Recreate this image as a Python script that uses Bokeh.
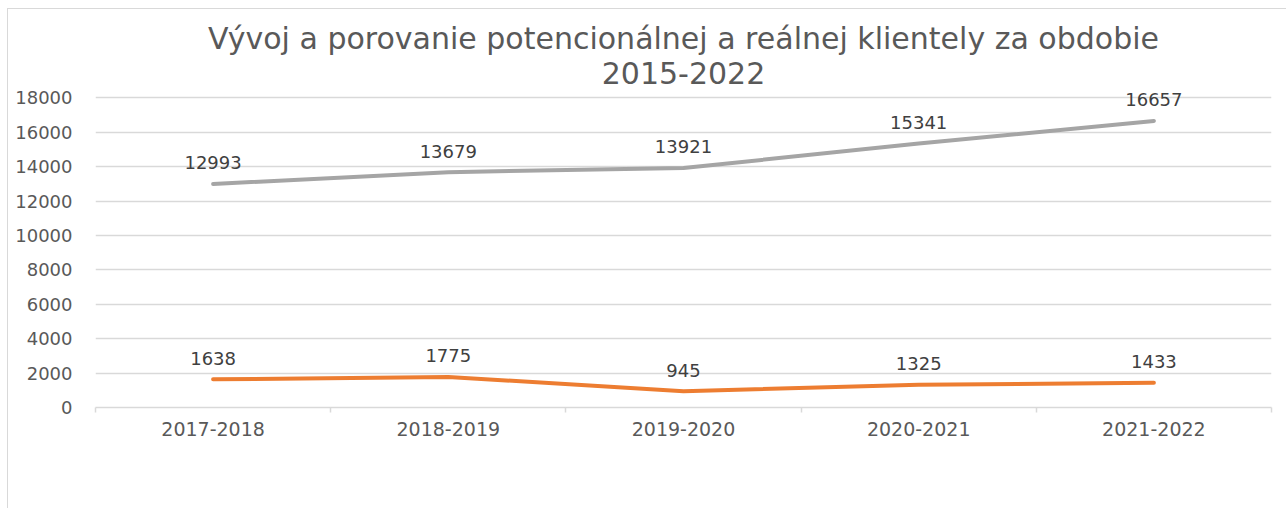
from bokeh.plotting import figure
from bokeh.models import (ColumnDataSource, LabelSet, Range1d, FactorRange, LinearAxis,
                          CategoricalAxis, FixedTicker, Title)
from bokeh.core.properties import value
from bokeh.embed import file_html
from bokeh.resources import INLINE

# ---- data ----
categories = ["2017-2018", "2018-2019", "2019-2020", "2020-2021", "2021-2022"]
potential = [12993, 13679, 13921, 15341, 16657]
real = [1638, 1775, 945, 1325, 1433]
y_ticks = [0, 2000, 4000, 6000, 8000, 10000, 12000, 14000, 16000, 18000]
title_lines = ["Vývoj a porovanie potencionálnej a reálnej klientely za obdobie", "2015-2022"]

FONT = "DejaVu Sans"
TXT = "#595959"
GRID = "#d9d9d9"

p = figure(width=1279, height=500, output_backend="svg", toolbar_location=None,
           x_range=FactorRange(factors=categories, range_padding=0),
           y_range=Range1d(0, 18600), x_axis_location=None, y_axis_location=None,
           min_border_left=87, min_border_right=16, min_border_top=78, min_border_bottom=102,
           styles={"margin-left": "7px", "margin-top": "8px",
                   "border-left": "1px solid #d9d9d9", "border-top": "1px solid #d9d9d9"})
p.outline_line_color = None
p.background_fill_color = "white"

# y axis
yax = LinearAxis(ticker=FixedTicker(ticks=y_ticks))
yax.axis_line_color = None
yax.major_tick_line_color = None
yax.minor_tick_line_color = None
yax.major_label_text_font = FONT
yax.major_label_text_font_size = "18px"
yax.major_label_text_color = TXT
yax.major_label_standoff = 17
p.add_layout(yax, "left")

# category-boundary ticks (synthetic coordinates of the factor range)
bax = LinearAxis(ticker=FixedTicker(ticks=list(range(len(categories) + 1))))
bax.axis_line_color = GRID
bax.axis_line_width = 1.5
bax.major_tick_line_color = GRID
bax.major_tick_line_width = 1.5
bax.major_tick_in = 0
bax.major_tick_out = 5
bax.minor_tick_line_color = None
bax.major_label_overrides = {i: "" for i in range(len(categories) + 1)}
bax.major_label_text_font_size = "1px"
bax.major_label_standoff = 0
p.add_layout(bax, "below")

cax = CategoricalAxis()
cax.axis_line_color = None
cax.major_tick_line_color = None
cax.major_label_text_font = FONT
cax.major_label_text_font_size = "19px"
cax.major_label_text_color = TXT
cax.major_label_standoff = 3
p.add_layout(cax, "below")

p.xgrid.visible = False
p.ygrid.grid_line_color = GRID
p.ygrid.grid_line_width = 1.5
p.ygrid.ticker = FixedTicker(ticks=y_ticks)

src = ColumnDataSource(dict(cat=categories, pot=potential, real=real,
                            pot_lbl=[str(v) for v in potential], real_lbl=[str(v) for v in real]))

p.line("cat", "pot", source=src, line_color="#a5a5a5", line_width=4, line_cap="round", line_join="round")
p.line("cat", "real", source=src, line_color="#ed7d31", line_width=4, line_cap="round", line_join="round")

for ycol, tcol in (("pot", "pot_lbl"), ("real", "real_lbl")):
    p.add_layout(LabelSet(x="cat", y=ycol, text=tcol, source=src, y_offset=21,
                          text_align="center", text_baseline="middle",
                          text_font=value(FONT), text_font_size="18px", text_color="#404040"))

# titles (outermost added last)
p.add_layout(Title(text=title_lines[1], align="center", text_font=FONT, text_font_size="30px",
                   text_color=TXT, text_font_style="normal", standoff=8), "above")
p.add_layout(Title(text=title_lines[0], align="center", text_font=FONT, text_font_size="30px",
                   text_color=TXT, text_font_style="normal", standoff=0), "above")

open("out.html", "w").write(file_html(p, INLINE))
